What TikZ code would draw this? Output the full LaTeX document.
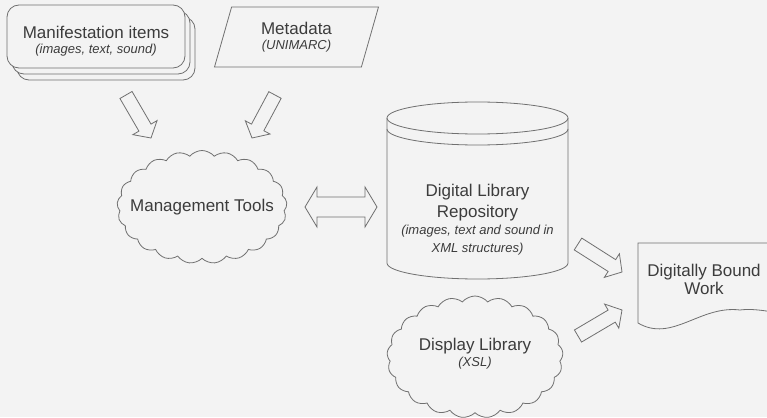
\documentclass[tikz,border=0pt]{standalone}
\usepackage{fontspec}
\setmainfont{Liberation Sans}
\usetikzlibrary{calc}
\usetikzlibrary{positioning}
\usetikzlibrary{shapes}
\usetikzlibrary{shadows}

\definecolor{paper}{HTML}{F3F3F3}
\definecolor{ink}{HTML}{3C3C3C}
\definecolor{strokegray}{HTML}{707070}

\newcommand{\subtxt}{\fontsize{13}{15}\selectfont\itshape}

\tikzset{
  lineart/.style={draw=strokegray, line width=0.8pt},
  txt/.style={text=ink, font=\fontsize{17}{21}\selectfont, align=center},
  stack/.style={lineart, fill=paper, rectangle, rounded corners=12pt,
    minimum width=178pt, minimum height=63pt,
    double copy shadow={shadow xshift=5pt, shadow yshift=-6pt,
      fill=paper, draw=strokegray, line width=0.8pt}},
  slanted/.style={lineart, txt, fill=paper, trapezium,
    trapezium left angle=65, trapezium right angle=115,
    minimum width=164pt, minimum height=60pt, trapezium stretches body},
  puff/.style={lineart, fill=paper, cloud, cloud puffs=21,
    cloud puff arc=100, cloud ignores aspect, inner sep=0pt},
  % hollow block arrows
  blockarrow/.style={lineart, to path={
      ($(\tikztostart)!7pt!90:(\tikztotarget)$)
      -- ($(\tikztotarget)!13.89pt!-30.26:(\tikztostart)$)
      -- ($(\tikztotarget)!18.44pt!-49.4:(\tikztostart)$)
      -- (\tikztotarget)
      -- ($(\tikztotarget)!18.44pt!49.4:(\tikztostart)$)
      -- ($(\tikztotarget)!13.89pt!30.26:(\tikztostart)$)
      -- ($(\tikztostart)!7pt!-90:(\tikztotarget)$)
      -- cycle}},
  twowayarrow/.style={lineart, to path={
      (\tikztostart)
      -- ($(\tikztostart)!23.32pt!59.04:(\tikztotarget)$)
      -- ($(\tikztostart)!15.62pt!39.81:(\tikztotarget)$)
      -- ($(\tikztotarget)!15.62pt!-39.81:(\tikztostart)$)
      -- ($(\tikztotarget)!23.32pt!-59.04:(\tikztostart)$)
      -- (\tikztotarget)
      -- ($(\tikztotarget)!23.32pt!59.04:(\tikztostart)$)
      -- ($(\tikztotarget)!15.62pt!39.81:(\tikztostart)$)
      -- ($(\tikztostart)!15.62pt!-39.81:(\tikztotarget)$)
      -- ($(\tikztostart)!23.32pt!-59.04:(\tikztotarget)$)
      -- cycle}},
}

\begin{document}
\begin{tikzpicture}[x=1pt, y=-1pt]
  \useasboundingbox (0,0) rectangle (767,417);
  \clip (0,0) rectangle (767,417);
  \fill[paper] (0,0) rectangle (767,417);

  % inputs
  \node (items) [stack] at (96,36.5) {};
  \node (itemstext) [txt] at ([yshift=-5pt]items.center) {Manifestation items\\[-6pt]\subtxt (images, text, sound)};
  \node (meta) [slanted] at (296.5,37) {Metadata\\[-6pt]\subtxt (UNIMARC)};

  % tools
  \node (tools) [puff, minimum width=170pt, minimum height=113pt] at (202,207) {};
  \node (toolstext) [txt] at (tools.center) {Management Tools};
  \node (display) [puff, minimum width=176pt, minimum height=122pt] at (475,357) {};
  \node (displaytext) [txt] at ([yshift=3pt]display.center) {Display Library\\[-5pt]\subtxt (XSL)};

  % repository drum
  \draw[lineart, fill=paper] (387,118) -- (387,263)
    arc[start angle=180, end angle=360, x radius=90.5pt, y radius=16pt]
    -- (568,118);
  \draw[lineart] (477.5,118) ellipse [x radius=90.5pt, y radius=16pt];
  \draw[lineart] (387,129) arc[start angle=180, end angle=360, x radius=90.5pt, y radius=16pt];
  \node (repo) [txt] at (477.5,220) {Digital Library\\Repository\\[-4pt]\subtxt (images, text and sound in\\[-3pt]\subtxt XML structures)};

  % output sheet
  \draw[lineart, fill=paper] (638,243) -- (800,243) -- (800,318)
    .. controls (775,312) and (755,308) .. (740,310)
    .. controls (700,305) and (672,343) .. (638,323) -- cycle;
  \node (work) [txt] at (704,279) {Digitally Bound\\[-3pt]Work};

  % arrow ends
  \coordinate (itemsout) at (126,95);
  \coordinate (itemsin) at (151,138);
  \coordinate (metaout) at (275,95);
  \coordinate (metain) at (252,138);
  \coordinate (toolsside) at (305,207);
  \coordinate (reposide) at (377,207);
  \coordinate (repoout) at (578,244);
  \coordinate (repoin) at (622,272);
  \coordinate (displayout) at (578,336);
  \coordinate (displayin) at (622,310);

  \draw[blockarrow] (itemsout) to (itemsin);
  \draw[blockarrow] (metaout) to (metain);
  \draw[twowayarrow] (toolsside) to (reposide);
  \draw[blockarrow] (repoout) to (repoin);
  \draw[blockarrow] (displayout) to (displayin);
\end{tikzpicture}
\end{document}
